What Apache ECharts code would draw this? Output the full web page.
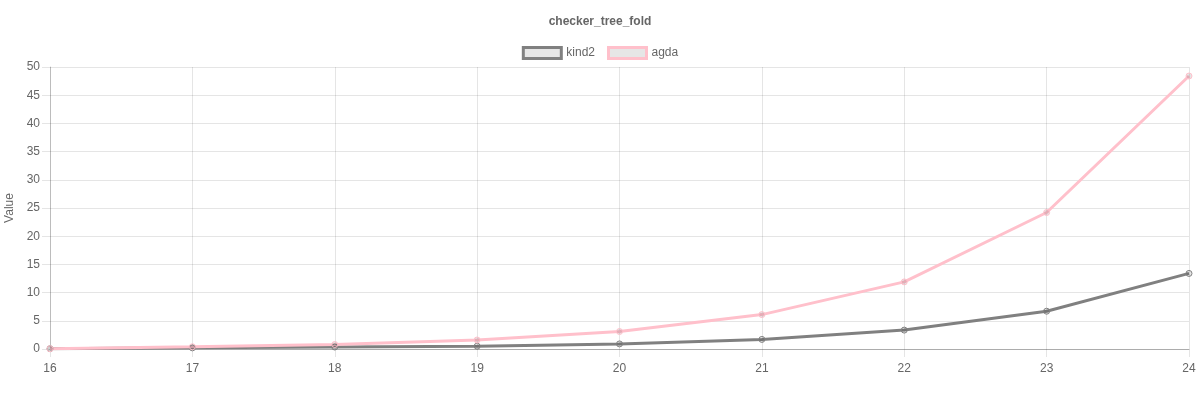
<!DOCTYPE html>
<html>
<head>
<meta charset="utf-8">
<title>checker_tree_fold</title>
<script src="https://cdn.jsdelivr.net/npm/echarts@6/dist/echarts.min.js"></script>
<style>
  html, body { margin: 0; padding: 0; background: #fff; }
  #chart { width: 1200px; height: 400px; }
</style>
</head>
<body>
<div id="chart"></div>
<script>
// data
const categories = ['16', '17', '18', '19', '20', '21', '22', '23', '24']
const kind2 = [0.05, 0.2, 0.35, 0.5, 0.9, 1.7, 3.35, 6.7, 13.4]
const agda = [0.05, 0.4, 0.8, 1.6, 3.1, 6.1, 11.9, 24.2, 48.4]
const yTicks = { min: 0, max: 50, interval: 5 }

const grey = 'rgb(128, 128, 128)'
const pink = 'rgb(255, 192, 203)'
const gridColor = 'rgba(0, 0, 0, 0.1)'
const font = 'Helvetica Neue, Liberation Sans, Arial, sans-serif'

const myChart = echarts.init(document.getElementById('chart'))

function makeSeries (name, values, color) {
  return {
    name: name,
    type: 'line',
    data: values,
    symbol: 'circle',
    symbolSize: 6,
    lineStyle: { color: color, width: 3 },
    itemStyle: { color: 'rgba(0, 0, 0, 0.1)', borderColor: color, borderWidth: 1 },
    emphasis: { disabled: true },
    animation: false
  }
}

const option = {
  animation: false,
  textStyle: { fontFamily: font },
  title: {
    text: 'checker_tree_fold',
    left: 'center',
    top: 11,
    textStyle: { fontSize: 12, fontWeight: 'bold', color: '#666', fontFamily: font }
  },
  legend: {
    top: 41,
    left: 'center',
    itemWidth: 38,
    itemHeight: 11,
    itemGap: 12,
    icon: 'rect',
    textStyle: { fontSize: 12, color: '#666', fontFamily: font },
    data: [
      { name: 'kind2', itemStyle: { color: '#e6e6e6', borderColor: grey, borderWidth: 3 } },
      { name: 'agda', itemStyle: { color: '#e6e6e6', borderColor: pink, borderWidth: 3 } }
    ]
  },
  grid: { left: 50, right: 11, top: 67, bottom: 51, containLabel: false, outerBoundsMode: 'none' },
  xAxis: {
    type: 'category',
    data: categories,
    boundaryGap: false,
    axisLine: { lineStyle: { color: 'rgba(0, 0, 0, 0.25)' } },
    axisTick: { show: true, length: 8, lineStyle: { color: gridColor } },
    axisLabel: { color: '#666', fontSize: 12, margin: 14, fontFamily: font },
    splitLine: { show: true, lineStyle: { color: gridColor } }
  },
  yAxis: {
    type: 'value',
    min: yTicks.min,
    max: yTicks.max,
    interval: yTicks.interval,
    name: 'Value',
    nameLocation: 'middle',
    nameGap: 29,
    nameTextStyle: { color: '#666', fontSize: 12, fontFamily: font },
    axisLine: { show: true, lineStyle: { color: 'rgba(0, 0, 0, 0.18)' } },
    axisTick: { show: true, length: 8, lineStyle: { color: gridColor } },
    axisLabel: { color: '#666', fontSize: 12, margin: 10, fontFamily: font },
    splitLine: { show: true, lineStyle: { color: gridColor } }
  },
  series: [
    makeSeries('kind2', kind2, grey),
    makeSeries('agda', agda, pink)
  ]
}

myChart.setOption(option)
</script>
</body>
</html>
